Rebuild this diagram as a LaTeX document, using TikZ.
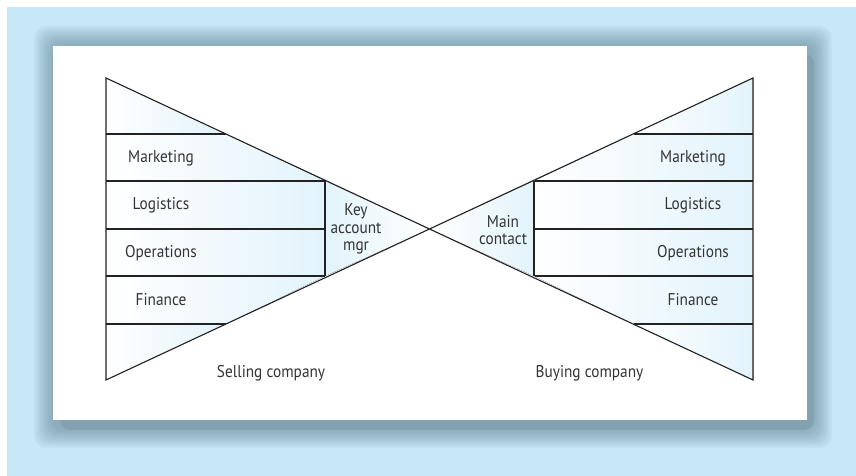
\documentclass[tikz,border=0pt]{standalone}
\usepackage{fontspec}
\setmainfont{PT Sans}[FakeStretch=0.9]
\usetikzlibrary{calc}
\definecolor{bgblue}{HTML}{C6E8F7}
\definecolor{cellblue}{HTML}{E2F3FB}
\definecolor{shadowgray}{HTML}{5F7D8C}
\definecolor{shadowcore}{HTML}{7F9AA8}
\definecolor{inkgray}{HTML}{333333}
\definecolor{linedark}{HTML}{222222}
\tikzset{
  panel/.style={fill=white, draw=none, minimum width=754pt, minimum height=374pt, inner sep=0pt},
  cell/.style={left color=white, right color=cellblue, draw=none},
  cellrev/.style={left color=cellblue, right color=white, draw=none},
  outline/.style={draw=linedark, line width=1.1pt, line join=miter},
  dept/.style={font=\fontsize{17}{17.5}\selectfont, text=inkgray, align=center, inner sep=0pt},
  contact/.style={font=\fontsize{17}{17.5}\selectfont, text=inkgray, align=center, inner sep=0pt}
}

\begin{document}
\begin{tikzpicture}[x=1pt, y=-1pt]
  % page and backdrop
  \fill[white] (0,0) rectangle (856,476);
  \fill[bgblue] (7,7) rectangle (856,476);
  \useasboundingbox (0,0) rectangle (856,476);

  % soft shadow behind the panel
  \foreach \s in {0,2,...,18}
    \fill[shadowgray, opacity=0.07, rounded corners=12pt]
      (52-\s,44-\s) rectangle (814+\s,430+\s);
  \fill[shadowcore, opacity=0.6, rounded corners=10pt] (60,54) rectangle (814,430);
  \node[panel] (panel) at (430,233) {};

  % corners of the bow tie
  \coordinate (tl) at (106,78);
  \coordinate (bl) at (106,380);
  \coordinate (tr) at (753,78);
  \coordinate (br) at (753,380);
  \coordinate (mid) at (429.5,229);

  % selling side
  \fill[cell] (tl) -- (225.7,134) -- (106,134) -- cycle;
  \fill[cell] (106,134) -- (225.7,134) -- (325,181) -- (106,181) -- cycle;
  \fill[cell] (106,181) rectangle (325,276);
  \fill[cell] (106,276) -- (325,276) -- (226,324) -- (106,324) -- cycle;
  \fill[cell] (106,324) -- (226,324) -- (bl) -- cycle;
  \fill[cellrev] (325,181) -- (mid) -- (325,276) -- cycle;

  % buying side
  \fill[cell] (tr) -- (633.3,134) -- (753,134) -- cycle;
  \fill[cell] (753,134) -- (633.3,134) -- (534,181) -- (753,181) -- cycle;
  \fill[cell] (534,181) rectangle (753,276);
  \fill[cell] (753,276) -- (534,276) -- (633,324) -- (753,324) -- cycle;
  \fill[cell] (753,324) -- (633,324) -- (br) -- cycle;
  \fill[cell] (534,181) -- (mid) -- (534,276) -- cycle;

  % outlines
  \draw[outline] (tl) -- (br) -- (tr) -- (bl) -- cycle;
  \foreach \y/\x in {134/225.7, 181/325, 229/325, 276/325, 324/226} {
    \draw[outline] (106,\y) -- (\x,\y);
    \draw[outline] (753,\y) -- (859.5-\x,\y);
  }
  \draw[outline] (325,181) -- (325,276);
  \draw[outline] (534,181) -- (534,276);

  % departments
  \node[dept] (mktS) at (161,158) {Marketing};
  \node[dept] (logS) at (161,205) {Logistics};
  \node[dept] (opsS) at (161,253) {Operations};
  \node[dept] (finS) at (161,300) {Finance};
  \node[dept] (mktB) at (693,158) {Marketing};
  \node[dept] (logB) at (693,205) {Logistics};
  \node[dept] (opsB) at (693,253) {Operations};
  \node[dept] (finB) at (693,300) {Finance};

  \node[contact] (kam) at (356,229) {Key\\account\\mgr};
  \node[contact] (main) at (503,230) {Main\\contact};

  \node[dept] (seller) at (271,373) {Selling company};
  \node[dept] (buyer) at (589.5,373) {Buying company};
\end{tikzpicture}
\end{document}
